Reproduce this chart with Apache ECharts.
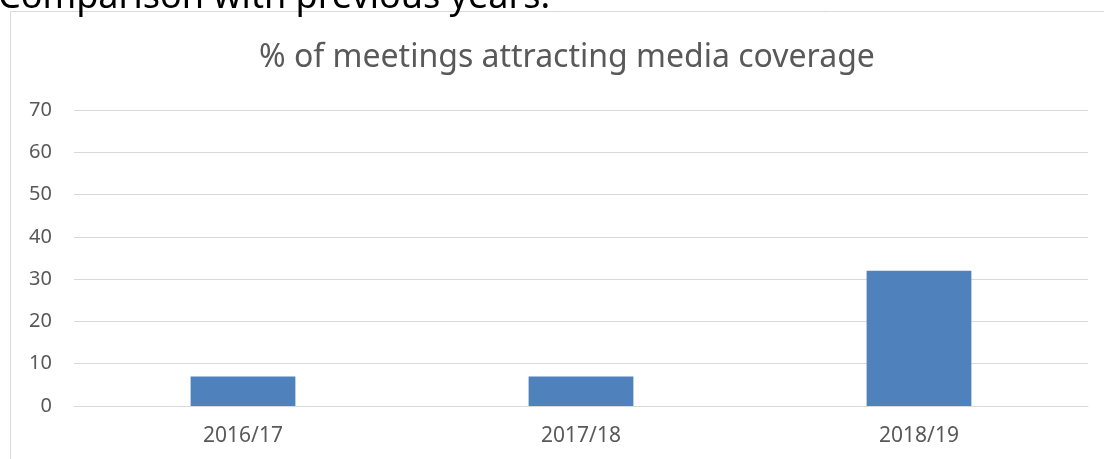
<!DOCTYPE html>
<html>
<head>
<meta charset="utf-8">
<script src="https://cdn.jsdelivr.net/npm/echarts@6/dist/echarts.min.js"></script>
<style>html,body{margin:0;padding:0;background:#fff}#c{width:1104px;height:459px}</style>
</head>
<body>
<div id="c"></div>
<script>
const categories = ['2016/17', '2017/18', '2018/19'];
const values = [7, 7, 32];
const yTicks = [0, 10, 20, 30, 40, 50, 60, 70];

const chart = echarts.init(document.getElementById('c'), null, {renderer: 'canvas'});
chart.setOption({
  animation: false,
  title: {
    text: '% of meetings attracting media coverage',
    left: 254,
    top: 37,
    textStyle: {fontFamily: 'Noto Sans', fontSize: 32, fontWeight: 'normal', color: '#595959'}
  },
  graphic: [
    {type: 'rect', shape: {x: 10.5, y: 11.5, width: 1200, height: 600}, style: {fill: 'none', stroke: '#d9d9d9', lineWidth: 1}, z: -1},
    {type: 'text', left: -2, top: -20, style: {text: 'Comparison with previous years.', fontFamily: 'Noto Sans', fontSize: 36, fill: '#000'}}
  ],
  grid: {left: 74, right: 16, top: 110, bottom: 53},
  xAxis: {
    type: 'category',
    data: categories,
    axisLine: {lineStyle: {color: '#d9d9d9', width: 1}},
    axisTick: {show: false},
    axisLabel: {color: '#595959', fontFamily: 'Noto Sans', fontSize: 21, margin: 20}
  },
  yAxis: {
    type: 'value',
    min: 0, max: 70, interval: 10,
    axisLine: {show: false},
    axisTick: {show: false},
    axisLabel: {color: '#595959', fontFamily: 'Noto Sans', fontSize: 20, margin: 22,
      formatter: v => yTicks.includes(v) ? String(v) : ''},
    splitLine: {lineStyle: {color: '#d9d9d9', width: 1}}
  },
  series: [{
    type: 'bar',
    data: values,
    barWidth: '31%',
    itemStyle: {color: '#4f81bd'}
  }]
});
</script>
</body>
</html>
